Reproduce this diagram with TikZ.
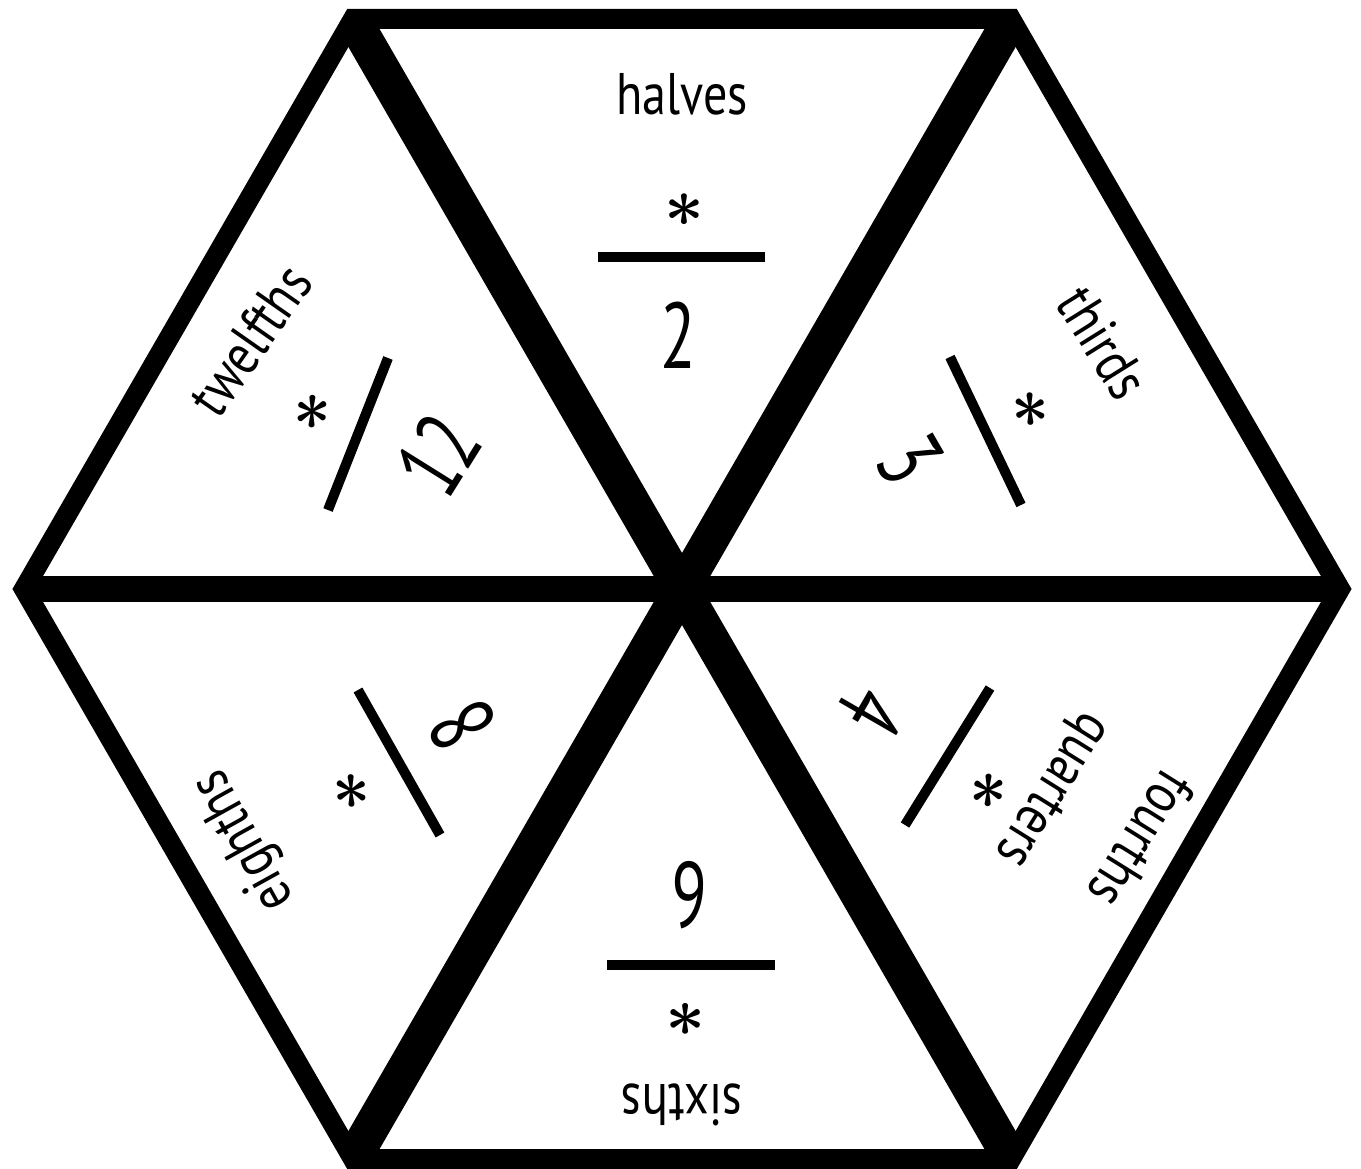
\documentclass[tikz,border=0pt]{standalone}
\usepackage{fontspec}
\setmainfont{PT Sans}
\newcommand{\narrowtxt}[1]{\scalebox{0.82}[1]{#1}}
\newcommand{\narrownum}[1]{\scalebox{0.7}[1]{#1}}
\newcommand{\bigast}{\scalebox{5.2}{\boldmath$\ast$}}
\begin{document}
\begin{tikzpicture}[x=0.75pt,y=-0.75pt,
  word/.style={inner sep=0pt, font=\fontsize{44}{44}\selectfont},
  numeral/.style={inner sep=0pt, font=\fontsize{70}{70}\selectfont},
  star/.style={inner sep=0pt},
  fracbar/.style={line width=7.5pt},
  spoke/.style={line width=27pt},
  midline/.style={line width=20pt},
  rim/.style={line width=15pt, line join=miter}]
\useasboundingbox (0,0) rectangle (1361,1169);
\fill[white] (0,0) rectangle (1361,1169);
% hexagon vertices
\coordinate (C) at (682,589);
\coordinate (TL) at (353,19);
\coordinate (TR) at (1011,19);
\coordinate (Rt) at (1340,589);
\coordinate (BR) at (1011,1159);
\coordinate (BL) at (353,1159);
\coordinate (Lt) at (24,589);
% spokes and outline
\draw[spoke] (TL) -- (BR);
\draw[spoke] (TR) -- (BL);
\draw[midline] (Lt) -- (Rt);
\draw[rim] (TL) -- (TR) -- (Rt) -- (BR) -- (BL) -- (Lt) -- cycle;
% halves (top)
\node[word] (halvesT) at (682,94) {\narrowtxt{halves}};
\node[star] (halvesS) at (684,210) {\bigast};
\coordinate (hb1) at (598,257); \coordinate (hb2) at (765,257);
\draw[fracbar] (hb1) -- (hb2);
\node[numeral] (halvesN) at (678,335) {\narrownum{2}};
% thirds (upper right)
\node[word, rotate=-58] (thirdsT) at (1103,343) {\narrowtxt{thirds}};
\node[star, rotate=-60] (thirdsS) at (1030,410) {\bigast};
\coordinate (tb1) at (950,357); \coordinate (tb2) at (1021,505);
\draw[fracbar] (tb1) -- (tb2);
\node[numeral, rotate=-60] (thirdsN) at (910,460) {\narrownum{3}};
% quarters / fourths (lower right)
\node[numeral, rotate=-120] (quartN) at (872,712) {\narrownum{4}};
\coordinate (qb1) at (990,688); \coordinate (qb2) at (905,825);
\draw[fracbar] (qb1) -- (qb2);
\node[star, rotate=-120] (quartS) at (988,790) {\bigast};
\node[word, rotate=-122] (quartT) at (1050,788) {\narrowtxt{quarters}};
\node[word, rotate=-122] (fourT) at (1142,840) {\narrowtxt{fourths}};
% sixths (bottom)
\node[numeral, rotate=180] (sixN) at (690,895) {\narrownum{6}};
\coordinate (sb1) at (607,965); \coordinate (sb2) at (775,965);
\draw[fracbar] (sb1) -- (sb2);
\node[star, rotate=180] (sixS) at (686,1018) {\bigast};
\node[word, rotate=180] (sixT) at (682,1105) {\narrowtxt{sixths}};
% eighths (lower left)
\node[numeral, rotate=120] (eightN) at (462,725) {\narrownum{8}};
\coordinate (eb1) at (358,690); \coordinate (eb2) at (440,835);
\draw[fracbar] (eb1) -- (eb2);
\node[star, rotate=120] (eightS) at (352,790) {\bigast};
\node[word, rotate=119] (eightT) at (245,840) {\narrowtxt{eighths}};
% twelfths (upper left)
\node[word, rotate=55] (twelfT) at (250,340) {\narrowtxt{twelfths}};
\node[star, rotate=60] (twelfS) at (313,412) {\bigast};
\coordinate (wb1) at (328,510); \coordinate (wb2) at (388,358);
\draw[fracbar] (wb1) -- (wb2);
\node[numeral, rotate=58] (twelfN) at (438,455) {\narrownum{12}};
\end{tikzpicture}
\end{document}
